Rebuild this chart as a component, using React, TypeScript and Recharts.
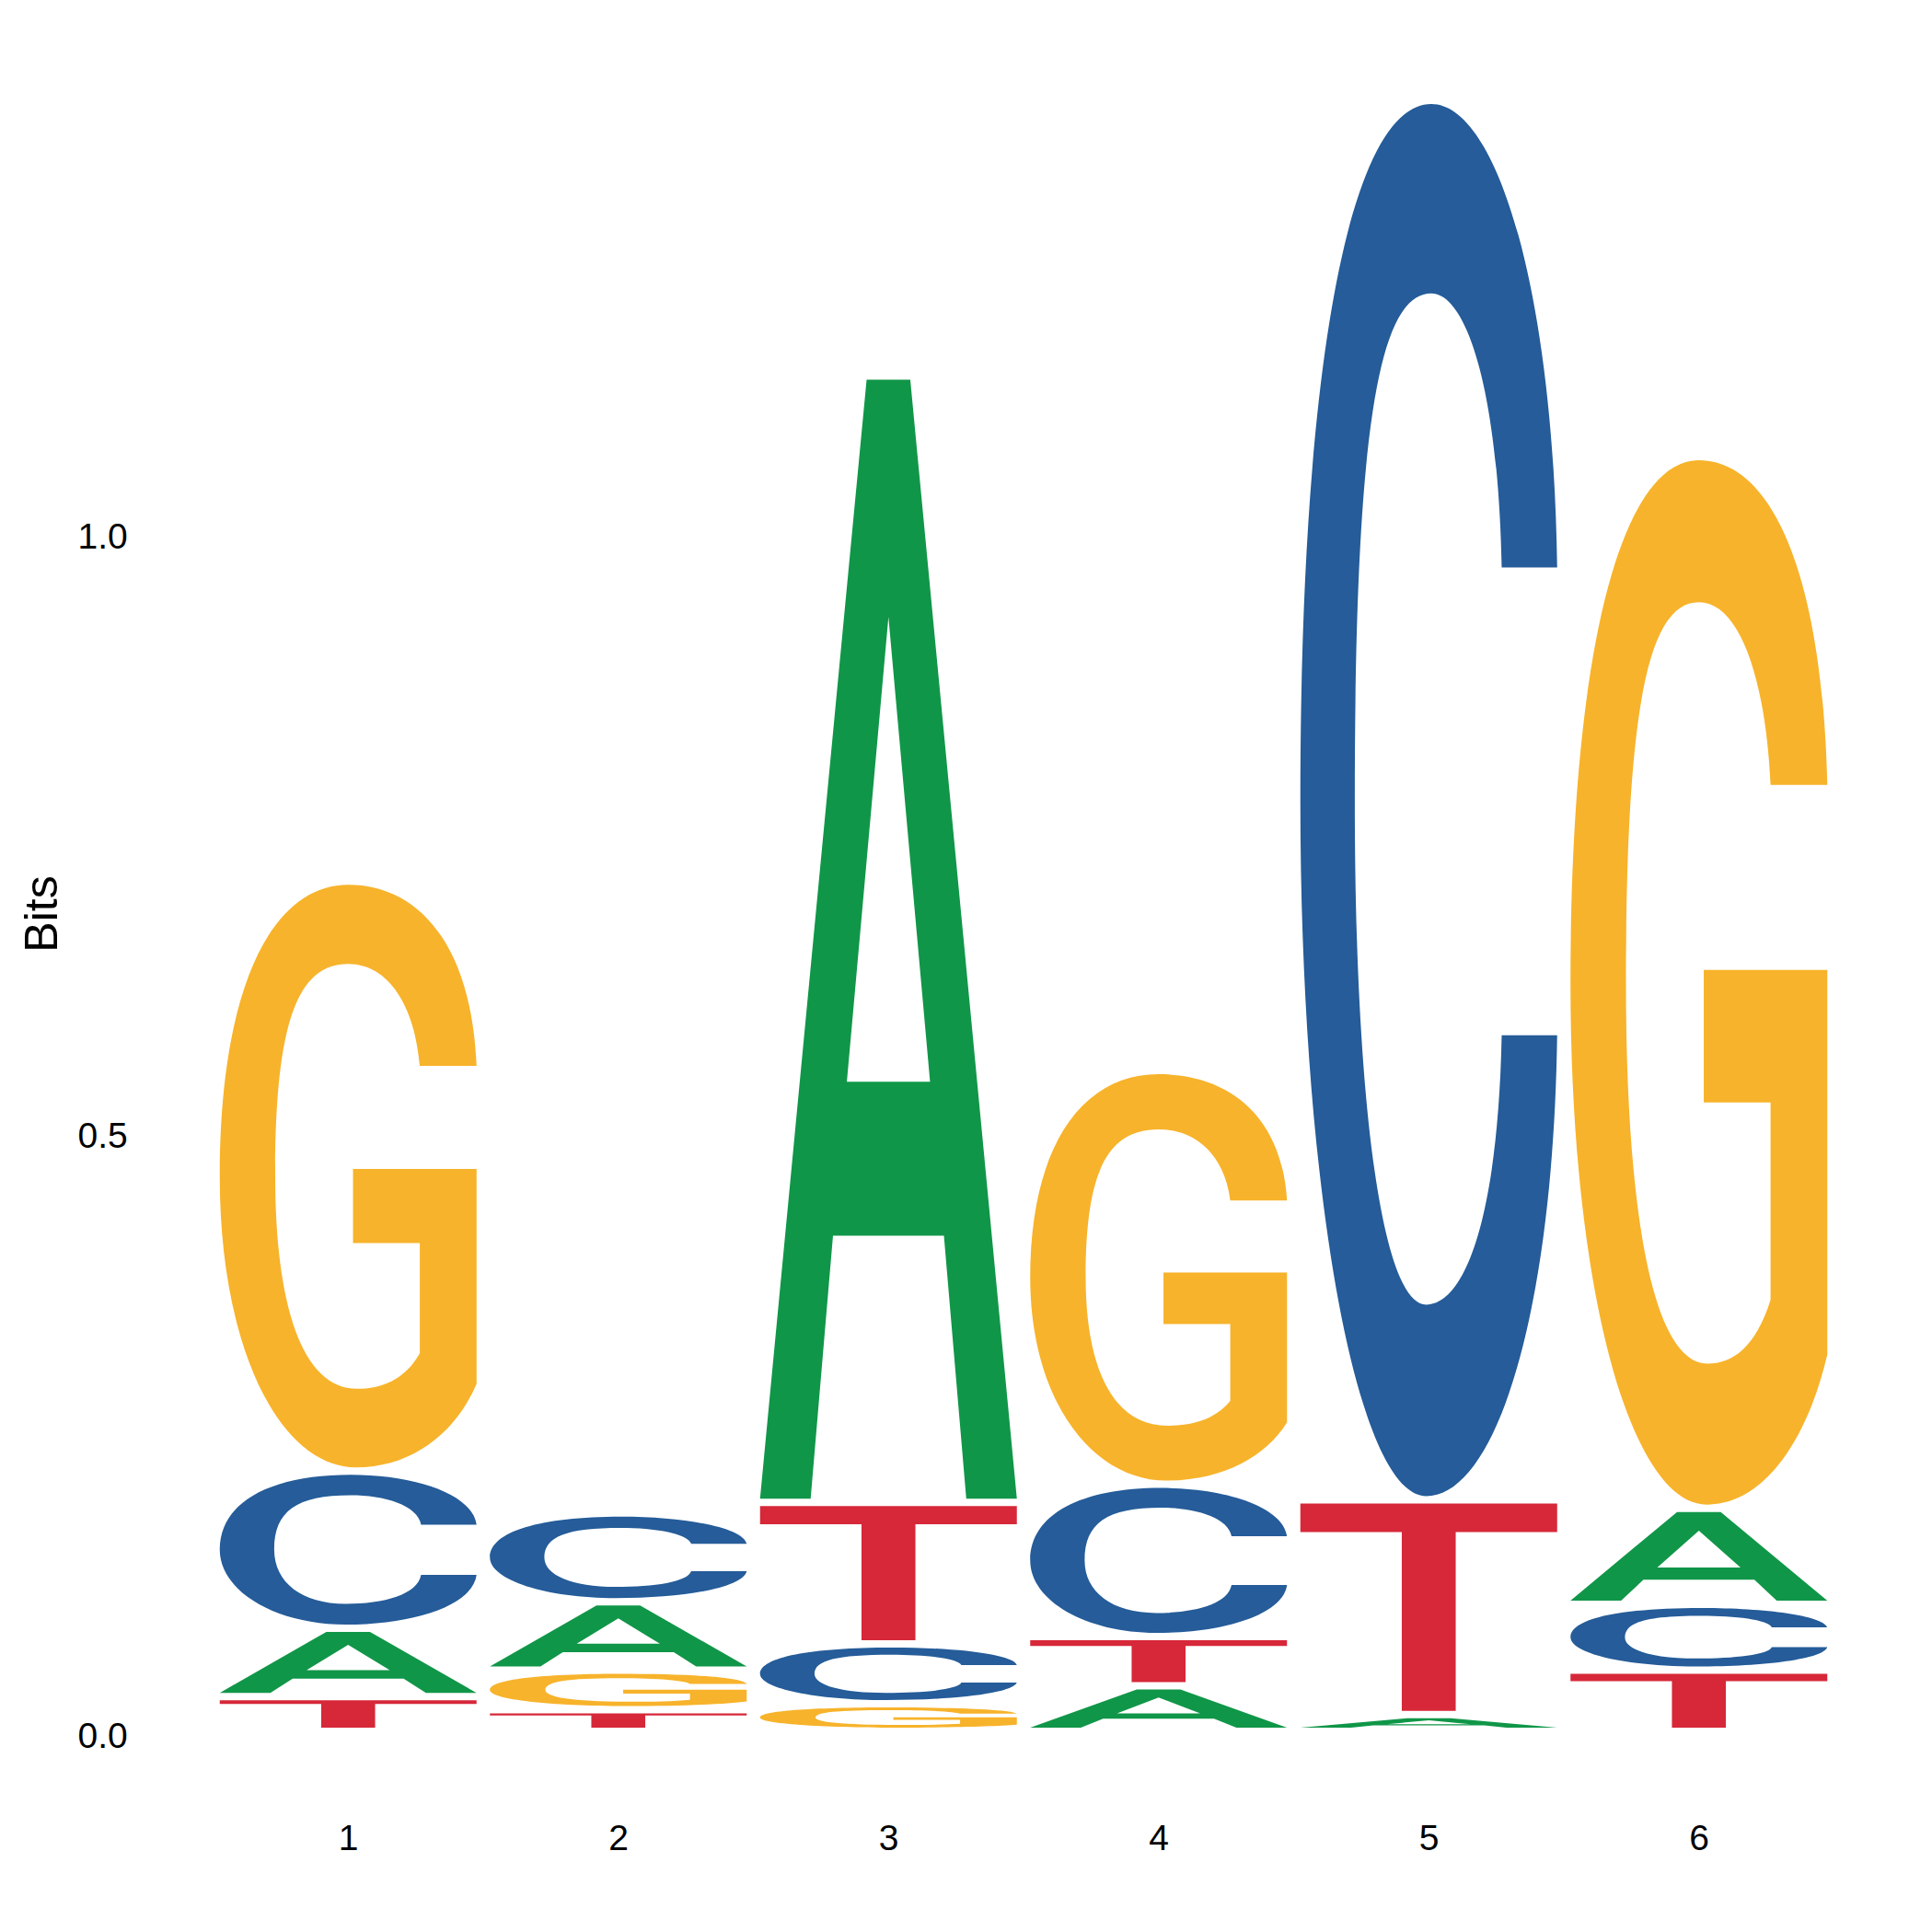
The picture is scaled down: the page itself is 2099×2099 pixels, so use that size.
import React from 'react';
import { BarChart, Bar, XAxis, YAxis } from 'recharts';

// ---- data ----
const positions = ['1', '2', '3', '4', '5', '6'];
const letters = ['A', 'C', 'G', 'T'];
const bitsA = [0.057, 0.057, 0.939, 0.038, 0.014, 0.080];
const bitsC = [0.131, 0.074, 0.050, 0.127, 1.167, 0.055];
const bitsG = [0.492, 0.033, 0.023, 0.345, 0.0, 0.877];
const bitsT = [0.029, 0.018, 0.118, 0.041, 0.179, 0.051];
const yTicks = [0, 0.5, 1.0];
const yLabel = 'Bits';

const COLORS: Record<string, string> = {
  A: '#109648',
  C: '#255C99',
  G: '#F7B32B',
  T: '#D62839',
};

const FONT = '"Liberation Sans", Arial, Helvetica, sans-serif';
const GAP = 8;

// build stacked table: each column ordered from smallest (bottom) to largest (top)
const seriesByLetter: Record<string, number[]> = { A: bitsA, C: bitsC, G: bitsG, T: bitsT };
const rows = positions.map((pos, i) => {
  const sorted = letters
    .map((l) => ({ l, v: seriesByLetter[l][i] }))
    .sort((a, b) => a.v - b.v);
  const row: Record<string, any> = { pos };
  sorted.forEach((s, k) => {
    row[`r${k}`] = s.v;
    row[`l${k}`] = s.l;
  });
  return row;
});

type Seg = (string | number)[];
const GLYPHS: Record<string, Seg[]> = {
  A: [
    ['M', 0, 0], ['L', 0.415, 1], ['L', 0.585, 1], ['L', 1, 0], ['L', 0.803, 0],
    ['L', 0.716, 0.235], ['L', 0.284, 0.235], ['L', 0.197, 0], ['Z'],
    ['M', 0.5, 0.788], ['L', 0.338, 0.3725], ['L', 0.662, 0.3725], ['Z'],
  ],
  T: [
    ['M', 0, 1], ['L', 1, 1], ['L', 1, 0.863], ['L', 0.605, 0.863], ['L', 0.605, 0],
    ['L', 0.395, 0], ['L', 0.395, 0.863], ['L', 0, 0.863], ['Z'],
  ],
  C: [
    ['M', 1, 0.667],
    ['C', 0.985, 0.87, 0.76, 1, 0.51, 1],
    ['C', 0.2, 1, 0, 0.82, 0, 0.5],
    ['C', 0, 0.22, 0.22, 0, 0.49, 0],
    ['C', 0.76, 0, 0.985, 0.13, 1, 0.331],
    ['L', 0.784, 0.331],
    ['C', 0.77, 0.2, 0.64, 0.1376, 0.49, 0.1376],
    ['C', 0.32, 0.1376, 0.212, 0.28, 0.212, 0.5],
    ['C', 0.212, 0.76, 0.3, 0.864, 0.51, 0.864],
    ['C', 0.64, 0.864, 0.77, 0.8, 0.784, 0.667],
    ['Z'],
  ],
  G: [
    ['M', 1, 0.689],
    ['C', 0.98, 0.9, 0.77, 1, 0.5, 1],
    ['C', 0.2, 1, 0, 0.82, 0, 0.5],
    ['C', 0, 0.2, 0.24, 0, 0.53, 0],
    ['C', 0.75, 0, 0.92, 0.06, 1, 0.1435],
    ['L', 1, 0.512],
    ['L', 0.519, 0.512],
    ['L', 0.519, 0.385],
    ['L', 0.779, 0.385],
    ['L', 0.779, 0.196],
    ['C', 0.72, 0.15, 0.63, 0.135, 0.534, 0.135],
    ['C', 0.32, 0.135, 0.216, 0.28, 0.216, 0.5],
    ['C', 0.216, 0.76, 0.3, 0.864, 0.5, 0.864],
    ['C', 0.66, 0.864, 0.76, 0.79, 0.779, 0.689],
    ['Z'],
  ],
};

function glyphPath(letter: string, x: number, top: number, w: number, bottom: number) {
  const h = bottom - top;
  const X = (n: number) => (x + n * w).toFixed(2);
  const Y = (n: number) => (bottom - n * h).toFixed(2);
  return GLYPHS[letter]
    .map((s) => {
      const c = s[0] as string;
      if (c === 'Z') return 'Z';
      const nums = s.slice(1) as number[];
      const pts: string[] = [];
      for (let i = 0; i < nums.length; i += 2) pts.push(`${X(nums[i])},${Y(nums[i + 1])}`);
      return `${c}${pts.join(' ')}`;
    })
    .join(' ');
}

const makeShape = (k: number) => (props: any) => {
  const { x, y, width, height, payload } = props;
  const letter = payload && payload[`l${k}`];
  if (!letter || !(height - GAP > 0.5)) return <g />;
  const d = glyphPath(letter, x, y, width, y + height - GAP);
  return <path d={d} fill={COLORS[letter]} fillRule="evenodd" stroke="none" />;
};

const BitsLabel = () => (
  <text
    x={44}
    y={993}
    dy="0.355em"
    transform="rotate(-90, 44, 993)"
    textAnchor="middle"
    fontSize={50}
    fontFamily={FONT}
    fill="#000"
  >
    {yLabel}
  </text>
);

export default function App() {
  return (
    <div style={{ width: 2099, height: 2099, background: '#fff' }}>
      <style>{'body{margin:0;background:#fff}'}</style>
      <BarChart
        width={2099}
        height={2099}
        data={rows}
        margin={{ top: 60.8, right: 106.25, bottom: 64, left: 0 }}
      >
        <XAxis
          dataKey="pos"
          type="category"
          axisLine={false}
          tickLine={false}
          tickSize={0}
          tickMargin={97}
          height={150}
          interval={0}
          tick={{ fontSize: 39, fill: '#000', fontFamily: FONT }}
        />
        <YAxis
          type="number"
          domain={[0, 1.4]}
          ticks={yTicks}
          allowDataOverflow
          width={231.75}
          axisLine={false}
          tickLine={false}
          tickSize={0}
          tickMargin={93}
          tickFormatter={(v: number) => v.toFixed(1)}
          tick={{ fontSize: 39, fill: '#000', fontFamily: FONT }}
          label={{ content: BitsLabel }}
        />
        {[0, 1, 2, 3].map((k) => (
          <Bar
            key={k}
            dataKey={`r${k}`}
            stackId="logo"
            barSize={279}
            isAnimationActive={false}
            shape={makeShape(k)}
          />
        ))}
      </BarChart>
    </div>
  );
}
